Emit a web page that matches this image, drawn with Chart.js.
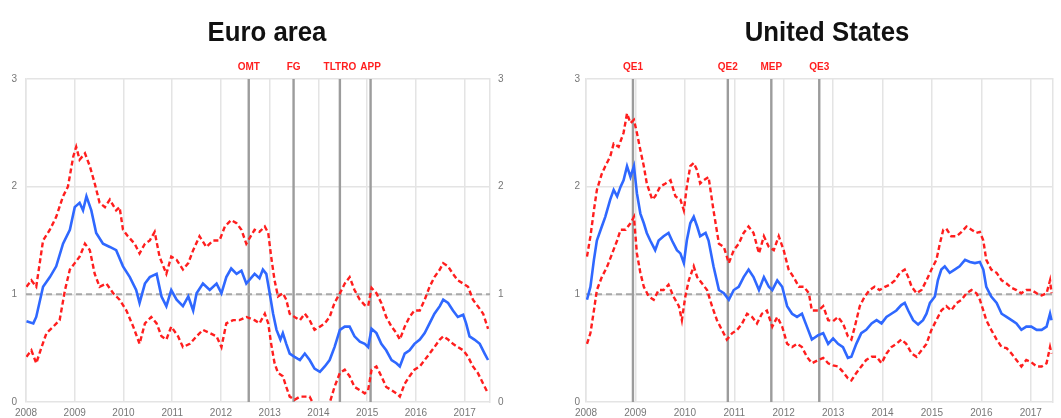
<!DOCTYPE html>
<html>
<head>
<meta charset="utf-8">
<script src="https://cdn.jsdelivr.net/npm/chart.js@4/dist/chart.umd.min.js"></script>
<style>
  html, body { margin: 0; padding: 0; background: #fff; }
  #wrap { position: relative; width: 1061px; height: 418px; overflow: hidden; }
  canvas { position: absolute; top: 0; }
  .title {
    position: absolute; top: 16px; height: 30px; line-height: 30px;
    font: bold 28px "Liberation Sans", Arial, sans-serif; color: #111;
    text-align: center; white-space: nowrap; transform: scaleX(0.92);
  }
</style>
</head>
<body>
<div id="wrap">
  <canvas id="ea" width="530" height="418" style="left:0px"></canvas>
  <canvas id="us" width="531" height="418" style="left:530px"></canvas>
  <div class="title" style="left:0px;width:534px">Euro area</div>
  <div class="title" style="left:530px;width:594px">United States</div>
</div>
<script>
// Axis ticks
const yearTicks = [2008, 2009, 2010, 2011, 2012, 2013, 2014, 2015, 2016, 2017];
const levelTicks = [0, 1, 2, 3];
const referenceLevel = 1;

// Euro area: policy announcements
const euroEventNames = ['OMT', 'FG', 'TLTRO', 'APP'];
const euroEventDates = [2012.57, 2013.49, 2014.44, 2015.07];

// Euro area: central estimate
const euroMidT = [2008.01,2008.15,2008.21,2008.35,2008.49,2008.62,2008.76,2008.90,2009.00,2009.10,2009.17,2009.24,2009.34,2009.44,2009.58,2009.72,2009.85,2009.99,2010.13,2010.26,2010.33,2010.44,2010.54,2010.68,2010.78,2010.88,2010.98,2011.09,2011.22,2011.33,2011.43,2011.50,2011.63,2011.77,2011.91,2012.01,2012.11,2012.21,2012.32,2012.42,2012.52,2012.69,2012.79,2012.86,2012.93,2013.00,2013.07,2013.14,2013.22,2013.27,2013.34,2013.41,2013.51,2013.62,2013.72,2013.82,2013.92,2014.03,2014.13,2014.23,2014.33,2014.44,2014.54,2014.64,2014.74,2014.85,2014.95,2015.02,2015.09,2015.19,2015.29,2015.39,2015.50,2015.60,2015.67,2015.77,2015.87,2015.97,2016.08,2016.18,2016.28,2016.38,2016.49,2016.56,2016.66,2016.76,2016.86,2016.97,2017.03,2017.10,2017.20,2017.31,2017.41,2017.48];
const euroMid = [0.75,0.73,0.79,1.07,1.16,1.26,1.47,1.60,1.81,1.85,1.78,1.91,1.78,1.57,1.47,1.44,1.41,1.26,1.16,1.04,0.92,1.10,1.16,1.19,0.98,0.89,1.04,0.95,0.89,0.98,0.85,1.01,1.10,1.04,1.10,1.01,1.16,1.24,1.19,1.22,1.10,1.19,1.15,1.23,1.19,1.01,0.82,0.67,0.58,0.64,0.54,0.45,0.42,0.39,0.45,0.39,0.31,0.28,0.33,0.39,0.51,0.67,0.70,0.70,0.61,0.56,0.54,0.51,0.68,0.64,0.54,0.48,0.39,0.36,0.33,0.45,0.48,0.54,0.58,0.64,0.73,0.82,0.89,0.95,0.92,0.85,0.79,0.81,0.73,0.61,0.58,0.54,0.45,0.39];

// Euro area: upper band
const euroUpperT = [2008.01,2008.11,2008.21,2008.35,2008.49,2008.62,2008.76,2008.86,2008.97,2009.03,2009.10,2009.21,2009.31,2009.41,2009.51,2009.62,2009.72,2009.85,2009.92,2009.99,2010.09,2010.23,2010.33,2010.44,2010.54,2010.64,2010.74,2010.88,2010.98,2011.09,2011.22,2011.33,2011.43,2011.56,2011.70,2011.84,2011.97,2012.08,2012.21,2012.32,2012.42,2012.52,2012.69,2012.79,2012.90,2012.97,2013.03,2013.10,2013.17,2013.27,2013.34,2013.41,2013.51,2013.62,2013.72,2013.82,2013.92,2014.03,2014.13,2014.23,2014.33,2014.44,2014.54,2014.64,2014.74,2014.85,2014.95,2015.02,2015.09,2015.19,2015.29,2015.39,2015.50,2015.60,2015.67,2015.77,2015.87,2015.97,2016.08,2016.18,2016.28,2016.38,2016.49,2016.56,2016.66,2016.76,2016.86,2016.97,2017.07,2017.17,2017.27,2017.38,2017.48];
const euroUpper = [1.07,1.13,1.07,1.50,1.60,1.72,1.91,2.00,2.28,2.37,2.25,2.31,2.19,2.03,1.85,1.81,1.88,1.78,1.81,1.60,1.54,1.47,1.38,1.47,1.50,1.58,1.35,1.19,1.35,1.32,1.23,1.29,1.41,1.54,1.44,1.50,1.50,1.63,1.69,1.66,1.60,1.47,1.60,1.58,1.63,1.57,1.35,1.13,0.98,1.01,0.95,0.82,0.79,0.76,0.82,0.76,0.67,0.70,0.73,0.79,0.92,1.01,1.10,1.16,1.04,0.95,0.90,0.89,1.06,1.01,0.92,0.79,0.70,0.64,0.58,0.70,0.79,0.85,0.85,0.95,1.07,1.16,1.23,1.29,1.26,1.19,1.13,1.10,1.07,0.95,0.89,0.82,0.68];

// Euro area: lower band
const euroLowerT = [2008.01,2008.11,2008.21,2008.32,2008.42,2008.56,2008.69,2008.80,2008.90,2009.00,2009.10,2009.21,2009.31,2009.41,2009.51,2009.65,2009.79,2009.92,2010.06,2010.20,2010.33,2010.44,2010.57,2010.68,2010.78,2010.88,2010.98,2011.12,2011.22,2011.36,2011.50,2011.63,2011.77,2011.91,2012.01,2012.11,2012.25,2012.38,2012.52,2012.69,2012.79,2012.90,2012.97,2013.03,2013.10,2013.17,2013.27,2013.34,2013.41,2013.51,2013.62,2013.72,2013.82,2013.92,2014.03,2014.13,2014.23,2014.33,2014.44,2014.54,2014.64,2014.74,2014.85,2014.95,2015.02,2015.09,2015.19,2015.29,2015.39,2015.50,2015.60,2015.67,2015.77,2015.87,2015.97,2016.08,2016.18,2016.28,2016.38,2016.49,2016.56,2016.66,2016.76,2016.86,2016.97,2017.07,2017.17,2017.27,2017.38,2017.48];
const euroLower = [0.42,0.48,0.36,0.51,0.64,0.70,0.76,1.04,1.23,1.29,1.35,1.47,1.41,1.19,1.07,1.10,1.01,0.95,0.85,0.70,0.54,0.73,0.79,0.73,0.61,0.58,0.70,0.61,0.51,0.54,0.61,0.67,0.64,0.61,0.51,0.73,0.76,0.76,0.79,0.76,0.73,0.82,0.73,0.54,0.36,0.27,0.24,0.14,0.05,0.02,0.05,0.05,0.05,-0.04,-0.07,-0.06,-0.01,0.14,0.27,0.30,0.24,0.14,0.11,0.08,0.11,0.30,0.33,0.24,0.14,0.11,0.08,0.05,0.17,0.24,0.30,0.33,0.39,0.45,0.51,0.58,0.61,0.58,0.54,0.51,0.48,0.42,0.33,0.27,0.17,0.08];

// United States: policy announcements
const usEventNames = ['QE1', 'QE2', 'MEP', 'QE3'];
const usEventDates = [2008.95, 2010.87, 2011.75, 2012.72];

// United States: central estimate
const usMidT = [2008.02,2008.09,2008.16,2008.22,2008.32,2008.39,2008.49,2008.56,2008.63,2008.70,2008.76,2008.83,2008.90,2008.97,2009.03,2009.10,2009.17,2009.23,2009.30,2009.40,2009.47,2009.57,2009.67,2009.74,2009.84,2009.91,2009.98,2010.04,2010.11,2010.18,2010.25,2010.31,2010.42,2010.48,2010.58,2010.69,2010.79,2010.89,2010.99,2011.09,2011.19,2011.29,2011.39,2011.50,2011.60,2011.70,2011.77,2011.87,2011.97,2012.07,2012.17,2012.27,2012.37,2012.47,2012.57,2012.70,2012.80,2012.90,2013.00,2013.10,2013.20,2013.30,2013.37,2013.47,2013.57,2013.67,2013.78,2013.88,2013.98,2014.08,2014.18,2014.28,2014.38,2014.45,2014.52,2014.62,2014.72,2014.82,2014.89,2014.96,2015.06,2015.12,2015.19,2015.26,2015.36,2015.46,2015.56,2015.67,2015.77,2015.87,2015.97,2016.04,2016.10,2016.20,2016.31,2016.41,2016.51,2016.61,2016.71,2016.81,2016.91,2017.01,2017.12,2017.22,2017.32,2017.39,2017.42];
const usMid = [0.95,1.07,1.32,1.50,1.63,1.72,1.88,1.97,1.91,2.00,2.06,2.19,2.09,2.19,1.94,1.75,1.66,1.57,1.50,1.41,1.50,1.54,1.57,1.50,1.41,1.38,1.29,1.50,1.66,1.72,1.63,1.54,1.57,1.50,1.26,1.04,1.01,0.95,1.04,1.07,1.16,1.23,1.16,1.04,1.16,1.07,1.04,1.13,1.07,0.89,0.82,0.79,0.82,0.70,0.58,0.62,0.64,0.54,0.59,0.54,0.51,0.41,0.42,0.54,0.64,0.67,0.73,0.76,0.73,0.79,0.82,0.85,0.90,0.92,0.85,0.76,0.72,0.76,0.82,0.92,0.98,1.13,1.23,1.26,1.20,1.23,1.26,1.32,1.30,1.29,1.30,1.23,1.07,0.98,0.92,0.82,0.79,0.76,0.73,0.67,0.70,0.70,0.67,0.67,0.70,0.82,0.76];

// United States: upper band
const usUpperT = [2008.02,2008.09,2008.16,2008.22,2008.32,2008.39,2008.49,2008.56,2008.66,2008.76,2008.83,2008.90,2008.97,2009.03,2009.10,2009.17,2009.23,2009.34,2009.40,2009.50,2009.61,2009.71,2009.81,2009.91,2009.98,2010.04,2010.11,2010.18,2010.25,2010.31,2010.38,2010.48,2010.58,2010.69,2010.79,2010.89,2010.99,2011.09,2011.19,2011.29,2011.39,2011.50,2011.60,2011.70,2011.80,2011.90,2012.00,2012.10,2012.20,2012.31,2012.41,2012.51,2012.57,2012.70,2012.80,2012.90,2013.00,2013.10,2013.20,2013.30,2013.37,2013.44,2013.54,2013.64,2013.74,2013.84,2013.94,2014.05,2014.15,2014.25,2014.35,2014.45,2014.52,2014.59,2014.69,2014.79,2014.89,2014.99,2015.09,2015.16,2015.23,2015.29,2015.39,2015.50,2015.60,2015.70,2015.80,2015.90,2015.97,2016.04,2016.10,2016.20,2016.31,2016.41,2016.51,2016.61,2016.71,2016.81,2016.91,2017.01,2017.12,2017.22,2017.32,2017.39,2017.42];
const usUpper = [1.35,1.54,1.78,1.97,2.12,2.19,2.28,2.40,2.37,2.50,2.68,2.59,2.62,2.50,2.34,2.19,2.03,1.88,1.91,2.00,2.03,2.06,1.91,1.88,1.78,2.00,2.19,2.22,2.15,2.03,2.06,2.09,1.78,1.47,1.44,1.29,1.41,1.47,1.57,1.63,1.57,1.38,1.54,1.44,1.41,1.54,1.41,1.23,1.16,1.07,1.07,1.01,0.85,0.85,0.89,0.76,0.75,0.79,0.73,0.61,0.58,0.70,0.89,0.98,1.04,1.07,1.04,1.07,1.09,1.13,1.20,1.23,1.16,1.07,1.01,1.04,1.13,1.23,1.32,1.47,1.60,1.61,1.54,1.54,1.58,1.63,1.60,1.57,1.58,1.50,1.32,1.23,1.20,1.13,1.10,1.06,1.04,1.01,1.04,1.04,1.01,0.99,1.01,1.13,1.01];

// United States: lower band
const usLowerT = [2008.02,2008.09,2008.16,2008.22,2008.32,2008.43,2008.53,2008.63,2008.70,2008.80,2008.90,2008.97,2009.03,2009.10,2009.17,2009.27,2009.37,2009.47,2009.57,2009.67,2009.77,2009.88,2009.94,2010.01,2010.08,2010.18,2010.25,2010.35,2010.45,2010.55,2010.65,2010.75,2010.85,2010.96,2011.06,2011.16,2011.26,2011.36,2011.46,2011.56,2011.66,2011.77,2011.87,2011.97,2012.07,2012.17,2012.27,2012.37,2012.47,2012.57,2012.70,2012.80,2012.90,2013.00,2013.10,2013.20,2013.30,2013.37,2013.47,2013.57,2013.67,2013.78,2013.88,2013.98,2014.08,2014.18,2014.28,2014.38,2014.48,2014.59,2014.69,2014.79,2014.89,2014.99,2015.09,2015.19,2015.29,2015.39,2015.50,2015.60,2015.70,2015.80,2015.90,2015.97,2016.04,2016.10,2016.20,2016.31,2016.41,2016.51,2016.61,2016.71,2016.81,2016.91,2017.01,2017.12,2017.22,2017.32,2017.39,2017.42];
const usLower = [0.54,0.64,0.85,1.04,1.16,1.26,1.38,1.50,1.60,1.60,1.66,1.72,1.38,1.20,1.07,0.98,0.95,1.04,1.04,1.09,0.98,0.89,0.76,0.98,1.13,1.26,1.16,1.10,1.04,0.89,0.76,0.67,0.58,0.64,0.67,0.73,0.82,0.79,0.73,0.82,0.85,0.70,0.79,0.70,0.54,0.51,0.54,0.51,0.42,0.36,0.39,0.41,0.36,0.34,0.33,0.28,0.22,0.20,0.27,0.33,0.39,0.42,0.42,0.36,0.45,0.51,0.54,0.58,0.54,0.45,0.42,0.48,0.54,0.67,0.76,0.85,0.89,0.85,0.92,0.95,1.01,1.04,1.01,0.95,0.85,0.76,0.67,0.58,0.51,0.50,0.45,0.39,0.33,0.39,0.37,0.33,0.33,0.36,0.51,0.45];

const BLUE = '#2f68ff';
const RED = '#ff1e1e';
const GRID = '#e4e4e4';
const TICK_FONT = { family: '"Liberation Sans", Arial, sans-serif', size: 10 };

function pairs(t, v) { return t.map((x, i) => ({ x: x, y: v[i] })); }

// Event names written just above the plot, centred on their vertical line
const eventLabelPlugin = {
  id: 'eventLabels',
  afterDatasetsDraw(chart, args, opts) {
    const ctx = chart.ctx;
    const xs = chart.scales.x;
    ctx.save();
    ctx.font = 'bold 10px "Liberation Sans", Arial, sans-serif';
    ctx.fillStyle = RED;
    ctx.textAlign = 'center';
    ctx.textBaseline = 'middle';
    opts.names.forEach((name, i) => {
      ctx.fillText(name, xs.getPixelForValue(opts.dates[i]), chart.chartArea.top - 12);
    });
    ctx.restore();
  }
};

function makePanel(canvasId, cfg) {
  const datasets = [
    { data: pairs(cfg.midT, cfg.mid), borderColor: BLUE, borderWidth: 2.6, order: 1 },
    { data: pairs(cfg.upT, cfg.up), borderColor: RED, borderWidth: 2.4, borderDash: [5, 3], order: 2 },
    { data: pairs(cfg.loT, cfg.lo), borderColor: RED, borderWidth: 2.4, borderDash: [5, 3], order: 2 },
    { data: [{ x: yearTicks[0], y: referenceLevel }, { x: cfg.xMax, y: referenceLevel }],
      borderColor: '#a8a8a8', borderWidth: 2, borderDash: [6, 4], order: 3 }
  ];
  cfg.eventDates.forEach(d => {
    datasets.push({
      data: [{ x: d, y: levelTicks[0] }, { x: d, y: levelTicks[levelTicks.length - 1] }],
      borderColor: '#9c9c9c', borderWidth: 2.4, order: 4
    });
  });

  return new Chart(document.getElementById(canvasId), {
    type: 'line',
    data: { datasets: datasets },
    plugins: [eventLabelPlugin],
    options: {
      responsive: false,
      animation: false,
      devicePixelRatio: 1,
      parsing: true,
      layout: { padding: { top: 79, left: 0, right: 0, bottom: 0 } },
      elements: {
        point: { radius: 0, hoverRadius: 0 },
        line: { tension: 0, fill: false, borderCapStyle: 'butt' }
      },
      plugins: {
        legend: { display: false },
        tooltip: { enabled: false },
        title: { display: false },
        eventLabels: { names: cfg.eventNames, dates: cfg.eventDates }
      },
      scales: {
        x: {
          type: 'linear',
          min: yearTicks[0],
          max: cfg.xMax,
          afterBuildTicks: s => { s.ticks = yearTicks.map(v => ({ value: v })); },
          afterFit: s => { s.height = 16; },
          grid: { color: GRID, lineWidth: 1.5, drawTicks: false },
          border: { display: false },
          ticks: { font: TICK_FONT, color: '#777', padding: 5, maxRotation: 0, autoSkip: false,
                   callback: v => String(v) }
        },
        y: {
          position: 'left',
          min: levelTicks[0],
          max: levelTicks[levelTicks.length - 1],
          afterBuildTicks: s => { s.ticks = levelTicks.map(v => ({ value: v })); },
          afterFit: s => { s.width = cfg.leftWidth; },
          grid: { color: GRID, lineWidth: 1.5, drawTicks: false },
          border: { display: true, color: GRID, width: 1.5 },
          ticks: { font: TICK_FONT, color: '#777', padding: cfg.leftPad, callback: v => String(v) }
        },
        y2: {
          position: 'right',
          min: levelTicks[0],
          max: levelTicks[levelTicks.length - 1],
          afterBuildTicks: s => { s.ticks = levelTicks.map(v => ({ value: v })); },
          afterFit: s => { s.width = cfg.rightWidth; },
          grid: { drawOnChartArea: false, drawTicks: false },
          border: { display: true, color: GRID, width: 1.5 },
          ticks: { display: cfg.rightLabels, font: TICK_FONT, color: '#777', padding: 8,
                   callback: v => String(v) }
        }
      }
    }
  });
}

makePanel('ea', {
  midT: euroMidT, mid: euroMid, upT: euroUpperT, up: euroUpper, loT: euroLowerT, lo: euroLower,
  eventNames: euroEventNames, eventDates: euroEventDates,
  xMax: 2017.52, leftWidth: 26, leftPad: 9, rightWidth: 40, rightLabels: true
});

makePanel('us', {
  midT: usMidT, mid: usMid, upT: usUpperT, up: usUpper, loT: usLowerT, lo: usLower,
  eventNames: usEventNames, eventDates: usEventDates,
  xMax: 2017.45, leftWidth: 56, leftPad: 6, rightWidth: 8, rightLabels: false
});
</script>
</body>
</html>
